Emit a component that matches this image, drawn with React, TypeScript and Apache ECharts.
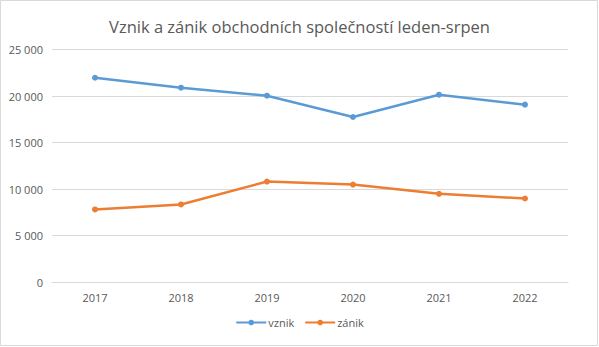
import React, { useEffect, useRef } from "react";
import * as echarts from "echarts";

const years = ["2017", "2018", "2019", "2020", "2021", "2022"];
const vznik = [21960, 20890, 20030, 17740, 20140, 19070];
const zanik = [7800, 8340, 10800, 10480, 9480, 8980];
const titleText = "Vznik a zánik obchodních společností leden-srpen";

export default function App() {
  const ref = useRef<HTMLDivElement>(null);
  useEffect(() => {
    if (!ref.current) return;
    const chart = echarts.init(ref.current, null, { renderer: "svg" });
    const font = "Open Sans";
    chart.setOption({
      animation: false,
      backgroundColor: "#ffffff",
      textStyle: { fontFamily: font },
      title: {
        text: titleText,
        left: "center",
        top: 13,
        textStyle: { fontSize: 16.5, fontWeight: "normal", color: "#595959", fontFamily: font },
      },
      graphic: [
        {
          type: "rect",
          shape: { x: 0.5, y: 0.5, width: 597, height: 345 },
          style: { fill: "none", stroke: "#d9d9d9", lineWidth: 1 },
          silent: true,
        },
      ],
      legend: {
        bottom: 14,
        left: "center",
        itemWidth: 30,
        itemHeight: 7,
        itemGap: 10,
        textStyle: { fontSize: 11, color: "#595959", fontFamily: font, padding: [0, 0, 0, -3] },
        data: ["vznik", "zánik"],
      },
      grid: { left: 52, right: 31, top: 49.5, bottom: 65 },
      xAxis: {
        type: "category",
        data: years,
        boundaryGap: true,
        axisLine: { show: true, lineStyle: { color: "#d9d9d9" } },
        axisTick: { show: false },
        axisLabel: { color: "#595959", fontSize: 11, margin: 10, fontFamily: font },
      },
      yAxis: {
        type: "value",
        min: 0,
        max: 25000,
        interval: 5000,
        axisLine: { show: false },
        axisTick: { show: false },
        splitLine: { lineStyle: { color: "#d9d9d9" } },
        axisLabel: {
          color: "#595959",
          fontSize: 11,
          margin: 9,
          fontFamily: font,
          formatter: (v: number) => (v >= 1000 ? `${Math.floor(v / 1000)} ${String(v % 1000).padStart(3, "0")}` : String(v)),
        },
      },
      series: [
        {
          name: "vznik",
          type: "line",
          data: vznik,
          symbol: "circle",
          symbolSize: 6,
          lineStyle: { width: 2.5, color: "#5B9BD5" },
          itemStyle: { color: "#5B9BD5" },
        },
        {
          name: "zánik",
          type: "line",
          data: zanik,
          symbol: "circle",
          symbolSize: 6,
          lineStyle: { width: 2.5, color: "#ED7D31" },
          itemStyle: { color: "#ED7D31" },
        },
      ],
    });
    return () => chart.dispose();
  }, []);
  return (
    <div style={{ position: "fixed", left: 0, top: 0, width: 599, height: 347 }}>
      <div ref={ref} style={{ width: 599, height: 347 }} />
    </div>
  );
}
